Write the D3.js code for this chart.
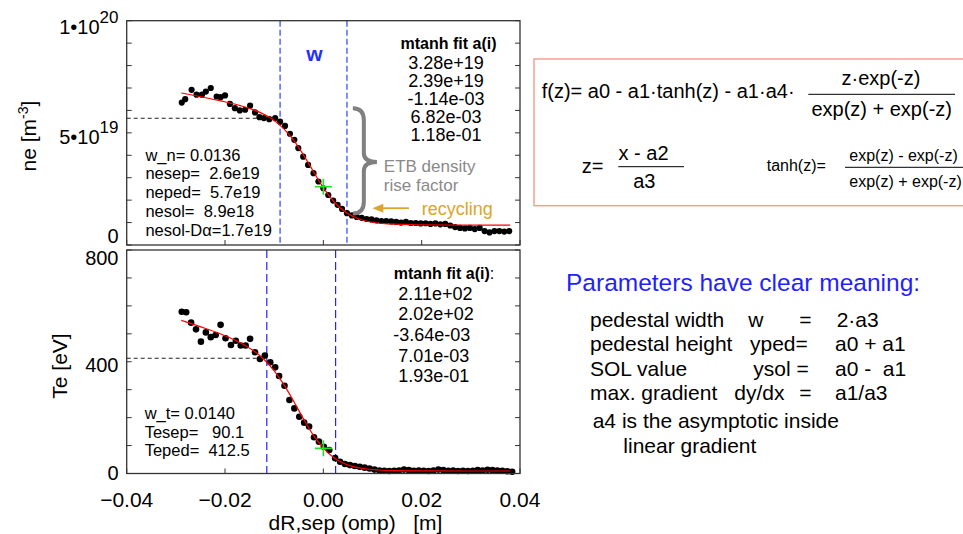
<!DOCTYPE html>
<html>
<head>
<meta charset="utf-8">
<script src="https://cdn.jsdelivr.net/npm/d3@7"></script>
<style>
  body { margin: 0; background: #fff; }
  svg text { font-family: "Liberation Sans", Arial, sans-serif; white-space: pre; }
</style>
</head>
<body>
<script>
// ---- data ----
// density profile (x in m, ne in 1e19 m^-3)
const neX = [-0.0288,-0.0281,-0.0268,-0.0258,-0.0247,-0.0239,-0.0229,-0.0217,-0.0209,-0.0200,
  -0.0190,-0.0180,-0.0170,-0.0159,-0.0149,-0.0139,-0.0130,-0.0121,-0.0110,-0.0098,
  -0.0088,-0.0078,-0.0068,-0.0059,-0.0051,-0.0041,-0.0031,-0.0020,-0.0010,0.0000,
  0.0010,0.0020,0.0029,0.0038,0.0048,0.0058,0.0068,0.0078,0.0088,0.0098,
  0.0108,0.0118,0.0128,0.0138,0.0148,0.0158,0.0168,0.0178,0.0188,0.0198,
  0.0208,0.0218,0.0228,0.0238,0.0248,0.0258,0.0268,0.0278,0.0288,0.0298,
  0.0308,0.0318,0.0328,0.0338,0.0348,0.0358,0.0368,0.0378];
const neY = [6.35,6.50,6.92,6.70,6.70,6.84,7.00,6.62,6.59,6.67,
  6.29,6.10,6.00,6.03,6.21,5.91,5.70,5.66,5.61,5.66,
  5.50,5.31,4.96,4.69,4.32,3.94,3.57,3.20,2.83,2.53,
  2.23,1.98,1.79,1.61,1.42,1.32,1.25,1.21,1.16,1.14,
  1.10,1.07,1.07,1.05,1.03,1.00,1.03,0.98,0.98,0.96,
  0.97,0.94,0.96,0.92,0.94,0.87,0.80,0.76,0.74,0.76,
  0.71,0.76,0.62,0.56,0.62,0.62,0.60,0.62];
// mtanh fit curve for ne
const neFitX = [-0.0289,-0.0249,-0.0209,-0.0169,-0.0129,-0.0109,-0.0089,-0.0069,-0.0049,-0.0029,
  -0.0009,0.0000,0.0011,0.0031,0.0051,0.0071,0.0091,0.0131,0.0191,0.0291,0.0380];
const neFitY = [6.778,6.608,6.428,6.216,5.911,5.680,5.356,4.906,4.310,3.604,
  2.865,2.556,2.214,1.718,1.382,1.172,1.049,0.938,0.898,0.890,0.890];

// temperature profile (x in m, Te in eV)
const teX = [-0.0288,-0.0279,-0.0269,-0.0259,-0.0249,-0.0239,-0.0229,-0.0219,-0.0209,-0.0199,
  -0.0188,-0.0178,-0.0168,-0.0158,-0.0149,-0.0139,-0.0129,-0.0119,-0.0108,-0.0098,
  -0.0090,-0.0079,-0.0069,-0.0059,-0.0049,-0.0039,-0.0029,-0.0019,-0.0009,0.0001,
  0.0012,0.0024,0.0034,0.0044,0.0054,0.0064,0.0074,0.0084,0.0094,0.0104,
  0.0114,0.0124,0.0134,0.0144,0.0154,0.0164,0.0174,0.0184,0.0194,0.0204,
  0.0214,0.0224,0.0234,0.0244,0.0254,0.0264,0.0274,0.0284,0.0294,0.0304,
  0.0314,0.0324,0.0334,0.0344,0.0354,0.0364,0.0374,0.0384];
const teY = [579,577,540,516,472,505,488,496,532,484,
  460,475,458,458,482,434,410,422,398,380,
  349,314,263,233,203,182,168,130,114,96,
  84,55,42,34,30,27,24,21,18,14,
  11,10,9,10,11,14,12,10,11,10,
  9,11,14,12,10,11,9,10,9,10,
  12,11,13,12,11,10,8,6];
const teFitX = [-0.0289,-0.0249,-0.0209,-0.0169,-0.0139,-0.0119,-0.0099,-0.0079,-0.0059,-0.0039,
  -0.0019,0.0000,0.0021,0.0041,0.0061,0.0081,0.0111,0.0151,0.0211,0.0291,0.0380];
const teFitY = [548.0,524.7,499.4,468.2,435.5,405.4,365.6,314.5,254.2,191.0,
  133.6,90.5,57.0,36.9,24.8,17.8,12.6,10.1,9.2,9.0,9.0];

// fit results shown in the panels
const neParams = ["3.28e+19","2.39e+19","-1.14e-03","6.82e-03","1.18e-01"];
const teParams = [" 2.11e+02"," 2.02e+02","-3.64e-03"," 7.01e-03"," 1.93e-01"];
const neInfo = ["w_n= 0.0136","nesep=  2.6e19","neped=  5.7e19","nesol=  8.9e18","nesol-D\u03b1=1.7e19"];
const teInfo = ["w_t= 0.0140","Tesep=   90.1","Teped=  412.5"];
const neWidth = [-0.0088, 0.0048];   // pedestal width limits
const teWidth = [-0.0115, 0.0025];
const neSep = [0.0, 2.6], nePed = 5.65;
const teSep = [0.0, 90.1], tePed = 412.5;

// axis ticks
const xTicks = [-0.04,-0.02,0.00,0.02,0.04];
const neTicks = [0,1,2,3,4,5,6,7,8,9,10];
const neTickLabels = [[0,"0",""],[5,"5\u202210","19"],[10,"1\u202210","20"]];
const teTicks = [0,100,200,300,400,500,600,700,800];
const teTickLabels = [0,400,800];

//visual setup
const width = 963, height = 534;
const left = 126.7, right = 520;
const svg = d3.select("body").append("svg")
  .attr("width", width)
  .attr("height", height);

const x = d3.scaleLinear().domain([-0.04, 0.04]).range([left, right]);
const yN = d3.scaleLinear().domain([0, 10]).range([245, 20.7]);
const yT = d3.scaleLinear().domain([0, 800]).range([473.5, 250]);

const font = 21;

function drawPanel(g, y, yTicks, ptsX, ptsY, fitX, fitY, widthLim, sep, ped, r) {
  const y0 = y.range()[0], y1 = y.range()[1];

  // y ticks both sides, x ticks on the bottom
  g.selectAll(".yl").data(yTicks).enter().append("line")
    .attr("x1", left).attr("x2", left + 5)
    .attr("y1", d => y(d)).attr("y2", d => y(d))
    .attr("stroke", "#333").attr("stroke-width", 1);
  g.selectAll(".yr").data(yTicks).enter().append("line")
    .attr("x1", right).attr("x2", right - 5)
    .attr("y1", d => y(d)).attr("y2", d => y(d))
    .attr("stroke", "#333").attr("stroke-width", 1);
  g.selectAll(".xt").data(xTicks).enter().append("line")
    .attr("x1", d => x(d)).attr("x2", d => x(d))
    .attr("y1", y0).attr("y2", y0 - 5)
    .attr("stroke", "#333").attr("stroke-width", 1);

  // pedestal dashed lines
  g.append("line")
    .attr("x1", left).attr("x2", x(widthLim[0]))
    .attr("y1", y(ped)).attr("y2", y(ped))
    .attr("stroke", "#222").attr("stroke-width", 1)
    .attr("stroke-dasharray", "4,3");
  g.selectAll(".wl").data(widthLim).enter().append("line")
    .attr("x1", d => x(d)).attr("x2", d => x(d))
    .attr("y1", y1).attr("y2", y0)
    .attr("stroke", r.blue).attr("stroke-width", r.blueW)
    .attr("stroke-dasharray", r.dash);

  // data points
  const pts = ptsX.map((v, i) => [v, ptsY[i]]);
  g.selectAll("circle").data(pts).enter().append("circle")
    .attr("cx", d => x(d[0])).attr("cy", d => y(d[1]))
    .attr("r", r.dot).attr("fill", "#000");

  // fit line
  const fit = fitX.map((v, i) => [v, fitY[i]]);
  g.append("path")
    .attr("d", d3.line().x(d => x(d[0])).y(d => y(d[1])).curve(d3.curveMonotoneX)(fit))
    .attr("fill", "none").attr("stroke", "#ff0000").attr("stroke-width", 1.2);

  // separatrix cross
  const cx = x(sep[0]), cy = y(sep[1]);
  g.append("path")
    .attr("d", `M${cx - 8.5},${cy}H${cx + 8.5}M${cx},${cy - 8}V${cy + 8}`)
    .attr("stroke", "#22e022").attr("stroke-width", 1.6);

  // frame
  g.append("rect")
    .attr("x", left).attr("y", y1)
    .attr("width", right - left).attr("height", y0 - y1)
    .attr("fill", "none").attr("stroke", "#333").attr("stroke-width", 1.3);
}

const nePanel = svg.append("g");
const tePanel = svg.append("g");
drawPanel(nePanel, yN, neTicks, neX, neY, neFitX, neFitY, neWidth, neSep, nePed,
  {blue: "#4d5dff", blueW: 1.4, dash: "6,3", dot: 3.1});
drawPanel(tePanel, yT, teTicks, teX, teY, teFitX, teFitY, teWidth, teSep, tePed,
  {blue: "#1010ff", blueW: 1.1, dash: "8,4", dot: 3.3});

// y tick labels
neTickLabels.forEach(function(t, i) {
  const off = [-2.5, 10.9, 13.3][i];
  const tx = nePanel.append("text")
    .attr("x", 118.5).attr("y", yN(t[0]) + off)
    .attr("text-anchor", "end").attr("font-size", 20).text(t[1]);
  if (t[2]) tx.append("tspan").attr("dy", -11).attr("font-size", 17).text(t[2]);
});
teTickLabels.forEach(function(t, i) {
  const off = [6.5, 10, 15][i];
  tePanel.append("text")
    .attr("x", 118.5).attr("y", yT(t) + off)
    .attr("text-anchor", "end").attr("font-size", 20).text(t);
});

// x tick labels and axis title
tePanel.selectAll(".xl").data(xTicks).enter().append("text")
  .attr("x", d => x(d)).attr("y", 507)
  .attr("text-anchor", "middle").attr("font-size", font)
  .text(d => d3.format(".2f")(d));
tePanel.append("text")
  .attr("x", 355.5).attr("y", 530)
  .attr("text-anchor", "middle").attr("font-size", font)
  .text("dR,sep (omp)   [m]");

// y axis titles
const neLab = svg.append("text")
  .attr("transform", "translate(36,136) rotate(-90)")
  .attr("text-anchor", "middle").attr("font-size", font)
  .text("ne [m");
neLab.append("tspan").attr("dy", -8).attr("font-size", 14).text("-3");
neLab.append("tspan").attr("dy", 8).text("]");
svg.append("text")
  .attr("transform", "translate(67,366) rotate(-90)")
  .attr("text-anchor", "middle").attr("font-size", font)
  .text("Te [eV]");

// fit parameter lists
nePanel.append("text").attr("x", 448.5).attr("y", 49)
  .attr("text-anchor", "middle").attr("font-size", 16).attr("font-weight", "bold")
  .text("mtanh fit a(i)");
nePanel.selectAll(".np").data(neParams).enter().append("text")
  .attr("x", 446).attr("y", (d, i) => 68.5 + i * 18.1)
  .attr("text-anchor", "middle").attr("font-size", 18)
  .text(d => d);
const th = tePanel.append("text").attr("x", 393.8).attr("y", 279)
  .attr("font-size", 16).attr("font-weight", "bold")
  .text("mtanh fit a(i)");
th.append("tspan").attr("font-weight", "normal").text(":");
tePanel.selectAll(".tp").data(teParams).enter().append("text")
  .attr("x", 393.3).attr("y", (d, i) => 299.5 + i * 20.7)
  .attr("font-size", 18)
  .text(d => d);

// info text
nePanel.selectAll(".ni").data(neInfo).enter().append("text")
  .attr("x", 145.4).attr("y", (d, i) => 160.7 + i * 18.75)
  .attr("font-size", 16.5).text(d => d);
tePanel.selectAll(".ti").data(teInfo).enter().append("text")
  .attr("x", 144.7).attr("y", (d, i) => 419.2 + i * 18.6)
  .attr("font-size", 16.5).text(d => d);

// width label
nePanel.append("text")
  .attr("x", x(-0.0018)).attr("y", yN(8.2))
  .attr("text-anchor", "middle").attr("font-size", 21).attr("font-weight", "bold")
  .attr("fill", "#1f2fff")
  .text("w");

// ETB brace
const bx0 = x(0.0060), bx1 = x(0.0109), bs = bx0 + 11;
const byT = yN(6.1), byB = yN(1.4), byM = yN(3.7);
nePanel.append("path")
  .attr("d", `M${bx0},${byT} Q${bs},${byT} ${bs},${byT + 12} L${bs},${byM - 9} Q${bs},${byM} ${bx1},${byM}` +
    ` Q${bs},${byM} ${bs},${byM + 9} L${bs},${byB - 12} Q${bs},${byB} ${bx0},${byB}`)
  .attr("fill", "none").attr("stroke", "#808080").attr("stroke-width", 4);
nePanel.append("text").attr("x", x(0.0123)).attr("y", yN(3.24))
  .attr("font-size", 17).attr("fill", "#8a8a8a").text("ETB density");
nePanel.append("text").attr("x", x(0.0123)).attr("y", yN(2.41))
  .attr("font-size", 17).attr("fill", "#8a8a8a").text("rise factor");

// recycling arrow
const ay = yN(1.64);
nePanel.append("line")
  .attr("x1", x(0.0174)).attr("x2", x(0.0118))
  .attr("y1", ay).attr("y2", ay)
  .attr("stroke", "#dba52c").attr("stroke-width", 1.8);
nePanel.append("path")
  .attr("d", `M${x(0.0100)},${ay} L${x(0.0122)},${ay - 4.5} L${x(0.0122)},${ay + 4.5} Z`)
  .attr("fill", "#dba52c");
nePanel.append("text").attr("x", x(0.0200)).attr("y", yN(1.33))
  .attr("font-size", 18).attr("fill", "#dba52c").text("recycling");

// ---- formula box ----
const fb = svg.append("g");
fb.append("rect")
  .attr("x", 534).attr("y", 59).attr("width", 440).attr("height", 146.7)
  .attr("fill", "none").attr("stroke", "#f59a8c").attr("stroke-width", 1.4);
fb.append("text").attr("x", 541.7).attr("y", 98.3).attr("font-size", 20)
  .text("f(z)= a0 - a1\u00b7tanh(z) - a1\u00b7a4\u00b7");
fb.append("text").attr("x", 881).attr("y", 85).attr("text-anchor", "middle")
  .attr("font-size", 20).text("z\u00b7exp(-z)");
fb.append("line").attr("x1", 808.3).attr("x2", 955).attr("y1", 94.3).attr("y2", 94.3)
  .attr("stroke", "#000").attr("stroke-width", 1);
fb.append("text").attr("x", 881.7).attr("y", 116).attr("text-anchor", "middle")
  .attr("font-size", 20).text("exp(z) + exp(-z)");
fb.append("text").attr("x", 581.7).attr("y", 172.7).attr("font-size", 20).text("z=");
fb.append("text").attr("x", 643.5).attr("y", 160).attr("text-anchor", "middle")
  .attr("font-size", 20).text("x - a2");
fb.append("line").attr("x1", 618.3).attr("x2", 684).attr("y1", 166.7).attr("y2", 166.7)
  .attr("stroke", "#000").attr("stroke-width", 1);
fb.append("text").attr("x", 644.3).attr("y", 187.7).attr("text-anchor", "middle")
  .attr("font-size", 20).text("a3");
fb.append("text").attr("x", 766.7).attr("y", 170.7).attr("font-size", 16).text("tanh(z)=");
fb.append("text").attr("x", 849.3).attr("y", 160.7).attr("font-size", 16).text("exp(z) - exp(-z)");
fb.append("line").attr("x1", 845).attr("x2", 963).attr("y1", 167.3).attr("y2", 167.3)
  .attr("stroke", "#000").attr("stroke-width", 1);
fb.append("text").attr("x", 849.3).attr("y", 186.7).attr("font-size", 16).text("exp(z) + exp(-z)");

// ---- parameter meaning ----
const pm = svg.append("g");
pm.append("text").attr("x", 566).attr("y", 290.7).attr("font-size", 24.5)
  .attr("fill", "#1f1fff").text("Parameters have clear meaning:");
const rows = [
  [["pedestal width", 590], ["w", 748.3], ["=", 799.3], ["2\u00b7a3", 836.7]],
  [["pedestal height", 590], ["yped=", 750], ["a0 + a1", 835]],
  [["SOL value", 590], ["ysol =", 753.3], ["a0 -  a1", 835]],
  [["max. gradient", 590], ["dy/dx", 734.3], ["=", 799.3], ["a1/a3", 835]]
];
rows.forEach(function(r, i) {
  r.forEach(function(c) {
    pm.append("text").attr("x", c[1]).attr("y", 326.7 + i * 24.4)
      .attr("font-size", 21).text(c[0]);
  });
});
pm.append("text").attr("x", 592.7).attr("y", 428.3).attr("font-size", 21)
  .text("a4 is the asymptotic inside");
pm.append("text").attr("x", 623.3).attr("y", 452.7).attr("font-size", 21)
  .text("linear gradient");
</script>
</body>
</html>
